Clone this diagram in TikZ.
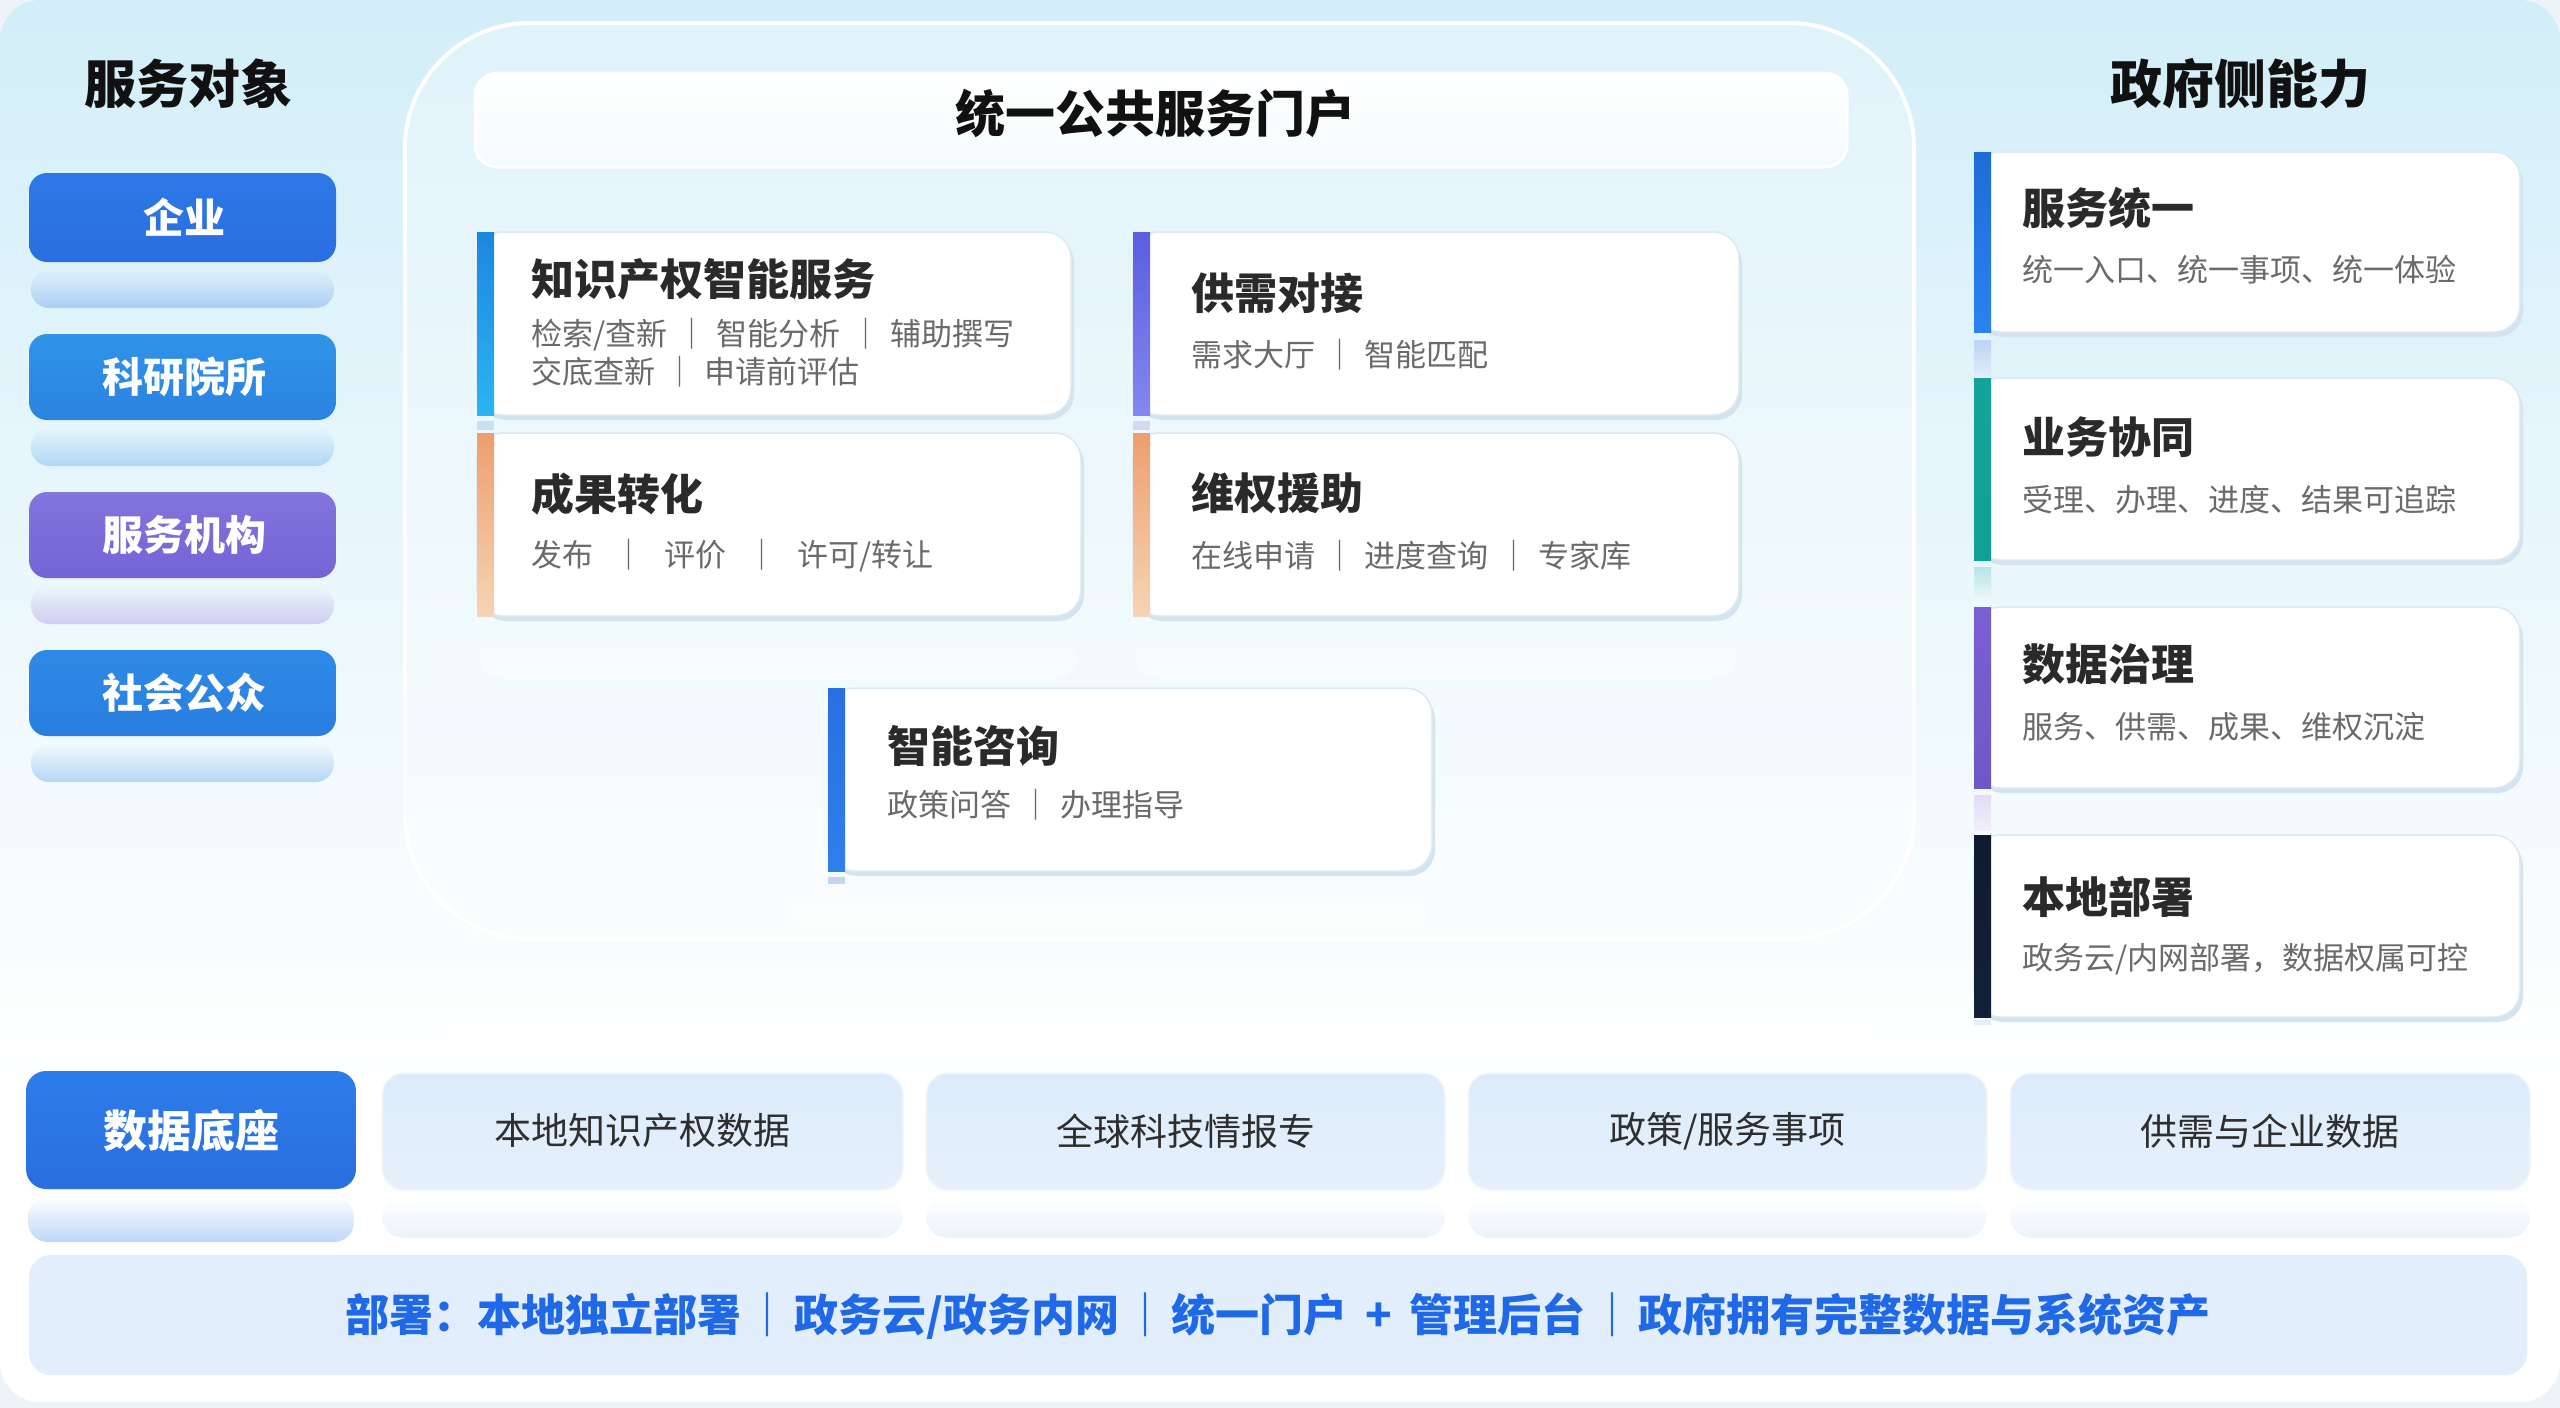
\documentclass[tikz,border=0pt]{standalone}
\usepackage{fontspec}
\setmainfont{Noto Sans CJK SC}
\usetikzlibrary{fadings}
\definecolor{bgout}{HTML}{EEF3F7}
\definecolor{bgtop}{HTML}{D2EEF8}
\definecolor{tblack}{HTML}{111111}
\definecolor{ctext}{HTML}{2A2A2A}
\definecolor{subgray}{HTML}{6A6A6A}
\definecolor{dtext}{HTML}{2E2E2E}
\definecolor{depblue}{HTML}{1F68E8}
\definecolor{cshadow}{HTML}{D3E3EF}
\definecolor{cborder}{HTML}{DCE8F2}
\definecolor{bA}{HTML}{2D78E8}\definecolor{bAb}{HTML}{2A6EE0}
\definecolor{bB}{HTML}{3093E8}\definecolor{bBb}{HTML}{2A83E0}
\definecolor{bC}{HTML}{8374DE}\definecolor{bCb}{HTML}{7463D5}
\definecolor{bD}{HTML}{2D8AE6}\definecolor{bDb}{HTML}{2A7EE0}
\definecolor{acA}{HTML}{1D86DF}\definecolor{acAb}{HTML}{2BB5F2}
\definecolor{acO}{HTML}{EE9E6E}\definecolor{acOb}{HTML}{F6D4B4}
\definecolor{acP}{HTML}{5A5EDE}\definecolor{acPb}{HTML}{8686F0}
\definecolor{acB}{HTML}{2A6FE0}\definecolor{acBb}{HTML}{2F7FEA}
\definecolor{rA}{HTML}{1E6CD8}\definecolor{rAb}{HTML}{2A82F0}
\definecolor{rT}{HTML}{14A39A}\definecolor{rTb}{HTML}{12A096}
\definecolor{rP}{HTML}{7C5FD3}\definecolor{rPb}{HTML}{6F57C6}
\definecolor{rN}{HTML}{0F1B2E}\definecolor{rNb}{HTML}{12203A}
\definecolor{dbA}{HTML}{2C7CE9}\definecolor{dbAb}{HTML}{2A6EE0}
\definecolor{dlt}{HTML}{DCEBFB}\definecolor{dltb}{HTML}{E6F0FC}
\definecolor{depfill}{HTML}{E2EEFC}
\newcommand\sepA{\hspace{0.3em}｜\hspace{0.3em}}
\newcommand\sepB{\hspace{0.65em}｜\hspace{0.65em}}
\newcommand\sepC{\hspace{0.1em}｜\hspace{0.1em}}
\newcommand\mkcard[6]{%
  \fill[cshadow, rounded corners=26] ({#1+3},{#2+5}) rectangle ({#3+3},{#4+5});
  \filldraw[fill=white, draw=cborder, line width=1.5, rounded corners=26] (#1,#2) rectangle (#3,#4);
  \shade[top color=#5, bottom color=#6] (#1,#2) rectangle ({#1+17},#4);
}
\newcommand\mkghost[4]{%
  \fill[white, opacity=0.6, path fading=north, rounded corners=24] (#1,{#3+8}) rectangle (#2,{#3+8+#4});
}
\newcommand\lbtn[6]{%
  \shade[top color=#4, bottom color=#5, rounded corners=18] (29,#2) rectangle (336,#3);
  \fill[#4!55!white, opacity=0.6, path fading=north, rounded corners=18] (31,{#3+8}) rectangle (334,{#3+46});
  \node[btxt] (#1) at (184,{(#2+#3)/2}) {#6};
}
\tikzset{
  ttl/.style={font=\fontsize{52}{60}\selectfont\bfseries, text=tblack, inner sep=0},
  hdr/.style={font=\fontsize{50}{60}\selectfont\bfseries, text=tblack, inner sep=0},
  btxt/.style={font=\fontsize{41}{48}\selectfont\bfseries, text=white, inner sep=0},
  ctitle/.style={font=\fontsize{43}{50}\selectfont\bfseries, text=ctext, anchor=west, inner sep=0},
  csub/.style={font=\fontsize{31}{37}\selectfont, text=subgray, anchor=west, inner sep=0},
  dtxt/.style={font=\fontsize{37}{44}\selectfont, text=dtext, inner sep=0},
  wtxt/.style={font=\fontsize{44}{52}\selectfont\bfseries, text=white, inner sep=0},
  deptxt/.style={font=\fontsize{44}{52}\selectfont\bfseries, text=depblue, inner sep=0},
}
\begin{document}
\begin{tikzpicture}[x=1pt,y=-1pt]
\useasboundingbox (0,0) rectangle (2560,1408);
\fill[bgout] (0,0) rectangle (2560,1408);
\begin{scope}
  \clip[rounded corners=40] (0,0) rectangle (2560,1402);
  \fill[white] (0,0) rectangle (2560,1402);
  \shade[top color=bgtop, bottom color=white] (0,0) rectangle (2560,1080);
\end{scope}

% ---------- centre panel ----------
\filldraw[fill=white, fill opacity=0.3, draw=white, line width=4, rounded corners=125] (405,23) rectangle (1914,939);
\fill[white, opacity=0.75, path fading=north, rounded corners=125] (412,946) rectangle (1907,1075);
\filldraw[draw=white, line width=3, top color=white, bottom color=white!75!bgtop, rounded corners=22] (475,73) rectangle (1847,167);
\node[hdr] (portal) at (1155,113) {统一公共服务门户};

% ---------- centre cards ----------
\mkcard{477}{232}{1071}{415}{acA}{acAb}
\node[ctitle] (c1t) at (531,279) {知识产权智能服务};
\node[csub] (c1s) at (531,335) {检索/查新\sepA{}智能分析\sepA{}辅助撰写};
\node[csub] (c1u) at (531,372) {交底查新\sepA{}申请前评估};
\fill[acA!25!white] (477,421) rectangle (494,430);

\mkcard{477}{433}{1081}{616}{acO}{acOb}
\node[ctitle] (c2t) at (531,494) {成果转化};
\node[csub] (c2s) at (531,556) {发布\sepB{}评价\sepB{}许可/转让};
\mkghost{480}{1078}{616}{55}

\mkcard{1133}{232}{1739}{415}{acP}{acPb}
\node[ctitle] (c3t) at (1191,293) {供需对接};
\node[csub] (c3s) at (1191,355) {需求大厅\sepA{}智能匹配};
\fill[acP!25!white] (1133,421) rectangle (1150,430);

\mkcard{1133}{433}{1739}{616}{acO}{acOb}
\node[ctitle] (c4t) at (1191,493) {维权援助};
\node[csub] (c4s) at (1191,556) {在线申请\sepA{}进度查询\sepA{}专家库};
\mkghost{1136}{1736}{616}{55}

\mkcard{828}{688}{1432}{871}{acB}{acBb}
\node[ctitle] (c5t) at (887,746) {智能咨询};
\node[csub] (c5s) at (887,805) {政策问答\sepA{}办理指导};
\fill[acB!30!white] (828,877) rectangle (845,884);
\mkghost{792}{1429}{871}{50}

% ---------- left column ----------
\node[ttl] (lefttitle) at (188,84) {服务对象};
\lbtn{qy}{173}{262}{bA}{bAb}{企业}
\lbtn{ky}{334}{420}{bB}{bBb}{科研院所}
\lbtn{fw}{492}{578}{bC}{bCb}{服务机构}
\lbtn{sh}{650}{736}{bD}{bDb}{社会公众}

% ---------- right column ----------
\node[ttl] (righttitle) at (2240,84) {政府侧能力};
\mkcard{1974}{152}{2520}{332}{rA}{rAb}
\node[ctitle] (r1t) at (2022,208) {服务统一};
\node[csub] (r1s) at (2022,270) {统一入口、统一事项、统一体验};
\shade[top color=rA!30!white, bottom color=rA!12!white] (1974,340) rectangle (1991,377);

\mkcard{1974}{378}{2520}{560}{rT}{rTb}
\node[ctitle] (r2t) at (2022,437) {业务协同};
\node[csub] (r2s) at (2022,500) {受理、办理、进度、结果可追踪};
\shade[top color=rT!14!bgtop, bottom color=rT!6!white] (1974,567) rectangle (1991,603);

\mkcard{1974}{607}{2520}{788}{rP}{rPb}
\node[ctitle] (r3t) at (2022,664) {数据治理};
\node[csub] (r3s) at (2022,727) {服务、供需、成果、维权沉淀};
\shade[top color=rP!22!white, bottom color=rP!10!white] (1974,795) rectangle (1991,830);

\mkcard{1974}{835}{2520}{1017}{rN}{rNb}
\node[ctitle] (r4t) at (2022,897) {本地部署};
\node[csub] (r4s) at (2022,959) {政务云/内网部署，数据权属可控};
\fill[rA!12!white] (1974,1020) rectangle (1991,1025);

% ---------- data base row ----------
\shade[top color=dbA, bottom color=dbAb, rounded corners=20] (26,1071) rectangle (356,1189);
\fill[dbA!50!white, opacity=0.6, path fading=north, rounded corners=20] (28,1197) rectangle (354,1242);
\node[wtxt] (base) at (191,1131) {数据底座};

\foreach \xa/\xb/\nm/\tx in {382/903/d1/{本地知识产权数据}, 926/1445/d2/{全球科技情报专}, 1468/1987/d3/{政策/服务事项}, 2010/2530/d4/{供需与企业数据}}{
  \filldraw[draw=white!60!dlt, line width=1.5, top color=dlt, bottom color=dltb, rounded corners=22] (\xa,1073) rectangle (\xb,1190);
  \fill[dlt, opacity=0.6, path fading=north, rounded corners=22] (\xa,1197) rectangle (\xb,1238);
  \node[dtxt] (\nm) at ({(\xa+\xb)/2},1131) {\tx};
}

% ---------- deployment bar ----------
\fill[depfill, rounded corners=22] (29,1255) rectangle (2527,1375);
\node[deptxt] (deploy) at (1278,1316) {部署：本地独立部署\sepC{}政务云/政务内网\sepC{}统一门户\hspace{0.4em}+\hspace{0.4em}管理后台\sepC{}政府拥有完整数据与系统资产};
\end{tikzpicture}
\end{document}
